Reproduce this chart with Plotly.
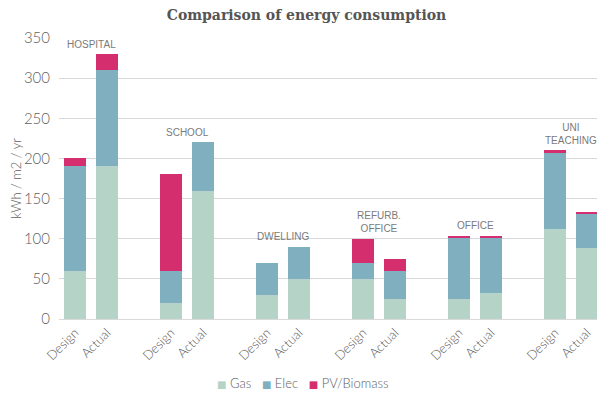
import plotly.graph_objects as go

groups = ["HOSPITAL", "SCHOOL", "DWELLING", "REFURB.<br>OFFICE", "OFFICE", "UNI<br>TEACHING"]
phases = ["Design", "Actual"]

gas = [60, 190, 20, 160, 30, 50, 50, 25, 25, 33, 112, 89]
elec = [130, 120, 40, 60, 40, 40, 20, 35, 77, 69, 95, 42]
pv = [10, 20, 120, 0, 0, 0, 30, 15, 2, 2, 3, 2]

series = [("Gas", gas, "#b5d3c7"), ("Elec", elec, "#80afc0"), ("PV/Biomass", pv, "#d42e6e")]

# slot positions: each group has Design, Actual and one blank slot
xpos = []
labels = []
for g in range(len(groups)):
    for p, ph in enumerate(phases):
        xpos.append(g * 3 + p)
        labels.append(ph)

fig = go.Figure()
for name, vals, col in series:
    fig.add_trace(go.Bar(x=xpos, y=vals, name=name, marker=dict(color=col, line=dict(width=0)),
                         width=0.68, showlegend=False))

totals = [a + b + c for a, b, c in zip(gas, elec, pv)]
for g, lab in enumerate(groups):
    top = max(totals[2 * g], totals[2 * g + 1])
    fig.add_annotation(x=g * 3 + 0.5, y=top + 3, text=lab, showarrow=False, yanchor="bottom",
                       font=dict(family="Liberation Sans, Arial", size=10, color="#7a7a7a"))

# compact legend built as one text line with coloured squares
legend_text = "&nbsp;&nbsp;&nbsp;".join(
    f'<span style="color:{col};font-family:DejaVu Sans;font-size:10px">■</span> {name}'
    for name, _, col in series)
fig.add_annotation(xref="paper", yref="paper", x=0.449, y=-0.228, xanchor="center",
                   yanchor="middle", text=legend_text, showarrow=False,
                   font=dict(family="Lato Light, Lato", size=13, color="#606060"))

# the page body adds an 8px offset, so the figure is 8px smaller
fig.update_layout(
    barmode="stack",
    width=597, height=385,
    margin=dict(l=51, r=2, t=30, b=74, autoexpand=False),
    plot_bgcolor="white", paper_bgcolor="white",
    title=dict(text="<b>Comparison of energy consumption</b>", x=0.5, xanchor="center", y=0.982,
               yanchor="middle", yref="container",
               font=dict(family="DejaVu Serif", size=14, color="#555555")),
    font=dict(family="Lato Light, Lato", color="#606060"),
    showlegend=False,
    bargap=0,
)
fig.update_xaxes(range=[-0.5, 16.5], tickvals=xpos, ticktext=labels, tickangle=-45,
                 tickfont=dict(size=13, color="#606060"), showgrid=False, showline=True,
                 linecolor="#d9d9d9", linewidth=1, ticks="", zeroline=False, automargin=False)
fig.update_yaxes(range=[0, 350], dtick=50, showgrid=True, gridcolor="#d9d9d9", gridwidth=1,
                 tickfont=dict(size=15, color="#606060"), ticks="", ticklabelstandoff=8,
                 title=dict(text="kWh / m2 / yr", font=dict(size=13, color="#606060")),
                 zeroline=False, automargin=False)

fig.write_html("out.html")
